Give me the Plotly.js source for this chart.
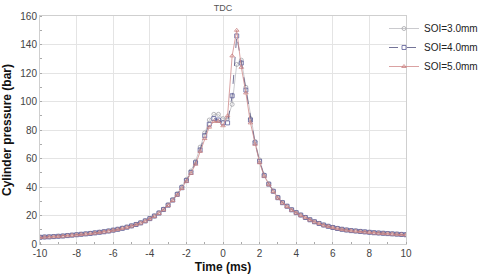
<!DOCTYPE html>
<html>
<head>
<meta charset="utf-8">
<script src="https://cdn.plot.ly/plotly-3.0.1.min.js"></script>
<style>html,body{margin:0;padding:0;background:#fff;}#chart{width:480px;height:280px;}</style>
</head>
<body>
<div id="chart"></div>
<script>
const time = [-10,-9.75,-9.5,-9.25,-9,-8.75,-8.5,-8.25,-8,-7.75,-7.5,-7.25,-7,-6.75,-6.5,-6.25,-6,-5.75,-5.5,-5.25,-5,-4.75,-4.5,-4.25,-4,-3.75,-3.5,-3.25,-3,-2.75,-2.5,-2.25,-2,-1.75,-1.5,-1.25,-1,-0.75,-0.5,-0.25,0,0.25,0.5,0.75,1,1.25,1.5,1.75,2,2.25,2.5,2.75,3,3.25,3.5,3.75,4,4.25,4.5,4.75,5,5.25,5.5,5.75,6,6.25,6.5,6.75,7,7.25,7.5,7.75,8,8.25,8.5,8.75,9,9.25,9.5,9.75,10];

const soi30 = [4.8,5.0,5.1,5.3,5.5,5.7,6.0,6.3,6.6,6.9,7.2,7.5,7.9,8.3,8.7,9.2,9.8,10.4,11.1,11.9,12.8,13.8,15.0,16.4,18.0,19.8,22.0,24.5,27.6,31.2,35.3,40.2,45.3,51.2,58,68,78,87,91,91,88,88,98,126,129,110,88,72,59,48.5,42.3,37.2,32.8,29.2,26.6,24.2,22.1,20.4,18.7,17.1,15.7,14.5,13.4,12.5,11.7,11.0,10.4,9.9,9.5,9.2,8.9,8.6,8.3,8.0,7.8,7.6,7.4,7.2,7.0,6.8,6.6];

const soi40 = [4.7,4.9,5.0,5.2,5.4,5.6,5.9,6.2,6.5,6.8,7.1,7.4,7.8,8.2,8.6,9.1,9.7,10.3,11.0,11.8,12.7,13.7,14.8,16.2,17.8,19.6,21.7,24.2,27.2,30.8,34.8,39.5,44.5,50.2,57,66,76,84,88,87,85,85,104,146,127,108,87,71,58,48,42,37,32.5,29,26.5,24,22,20.3,18.6,17,15.6,14.4,13.3,12.4,11.6,10.9,10.3,9.8,9.4,9.1,8.8,8.5,8.2,7.9,7.7,7.5,7.3,7.1,6.9,6.7,6.5];

const soi50 = [4.6,4.8,5.0,5.1,5.3,5.5,5.8,6.1,6.4,6.7,7.0,7.3,7.7,8.1,8.5,9.0,9.6,10.2,10.9,11.7,12.6,13.6,14.7,16.0,17.6,19.4,21.5,24.0,27.0,30.5,34.4,39.0,44.0,49.6,56,65,74,82,86,86,83,90,132,150,124,106,85,70,57,47.6,41.6,36.7,32.2,28.8,26.2,23.8,21.8,20.1,18.5,16.9,15.5,14.3,13.2,12.3,11.5,10.8,10.2,9.7,9.3,9.0,8.7,8.4,8.1,7.8,7.6,7.4,7.2,7.0,6.8,6.6,6.4];

const seriesNames = ['SOI=3.0mm','SOI=4.0mm','SOI=5.0mm'];
const xTicks = [-10,-8,-6,-4,-2,0,2,4,6,8,10];
const yTicks = [0,20,40,60,80,100,120,140,160];

const traces = [
  {x: time, y: soi30, name: seriesNames[0], mode: 'lines+markers',
   line: {color: '#bdbdc2', width: 0.8},
   marker: {symbol: 'circle-open', size: 4, color: '#a4a4aa', line: {width: 0.8}}},
  {x: time, y: soi40, name: seriesNames[1], mode: 'lines+markers',
   line: {color: '#50507e', width: 0.8, dash: 'dash'},
   marker: {symbol: 'square-open', size: 4, color: '#5c5c98', line: {width: 0.8}}},
  {x: time, y: soi50, name: seriesNames[2], mode: 'lines+markers',
   line: {color: '#d08a8a', width: 0.8},
   marker: {symbol: 'triangle-up-open', size: 4, color: '#c98080', line: {width: 0.8}}}
];

const layout = {
  width: 480, height: 280,
  margin: {l: 40, r: 74, t: 16, b: 36, pad: 0, autoexpand: false},
  paper_bgcolor: '#fff', plot_bgcolor: '#fff',
  font: {family: 'Liberation Sans, Arial, sans-serif', size: 10, color: '#444'},
  title: {text: 'TDC', x: 0.5, xref: 'paper', xanchor: 'center', y: 0.985, yanchor: 'top',
          font: {size: 9, color: '#555'}},
  xaxis: {range: [-10, 10], tickvals: xTicks, ticktext: xTicks.map(String),
          showgrid: true, gridcolor: '#e4e4e4', gridwidth: 1, zeroline: false,
          showline: true, linecolor: '#cfcfcf', linewidth: 1, mirror: true,
          ticks: '', tickfont: {size: 10, color: '#444'},
          minor: {dtick: 1, ticks: 'inside', ticklen: 2, tickcolor: '#aaa', showgrid: false},
          title: {text: '<b>Time (ms)</b>', font: {size: 12, color: '#111'}, standoff: 4}},
  yaxis: {range: [0, 160], tickvals: yTicks, ticktext: yTicks.map(String),
          showgrid: true, gridcolor: '#e4e4e4', gridwidth: 1, zeroline: false,
          showline: true, linecolor: '#cfcfcf', linewidth: 1, mirror: true,
          ticks: '', tickfont: {size: 10, color: '#444'},
          minor: {dtick: 10, ticks: 'inside', ticklen: 2, tickcolor: '#aaa', showgrid: false},
          title: {text: '<b>Cylinder pressure (bar)</b>', font: {size: 12, color: '#111'}, standoff: 6}},
  showlegend: true,
  legend: {xref: 'container', yref: 'container', x: 0.8, xanchor: 'left', y: 0.95, yanchor: 'top',
           bgcolor: 'rgba(0,0,0,0)', borderwidth: 0,
           font: {size: 10, color: '#222'}, tracegroupgap: 0}
};

Plotly.newPlot('chart', traces, layout, {displayModeBar: false, staticPlot: true});
</script>
</body>
</html>
